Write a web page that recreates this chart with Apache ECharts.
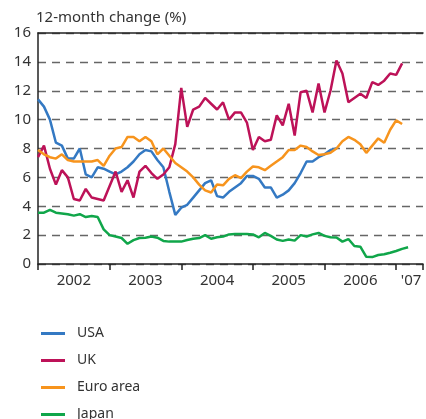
<!DOCTYPE html>
<html>
<head>
<meta charset="utf-8">
<script src="https://cdn.jsdelivr.net/npm/echarts@6/dist/echarts.min.js"></script>
<style>
html,body{margin:0;padding:0;background:#fff;}
#chart{width:426px;height:419px;}
</style>
</head>
<body>
<div id="chart"></div>
<script>
// Monthly data, Jan 2002 onwards (index 0 = Jan 2002)
const usa = [11.4,10.9,10.0,8.4,8.2,7.3,7.3,8.0,6.2,6.0,
  6.7,6.6,6.4,6.2,6.4,6.7,7.1,7.6,7.9,7.8,
  7.2,6.7,5.0,3.4,3.9,4.1,4.6,5.1,5.6,5.8,
  4.7,4.6,5.0,5.3,5.6,6.1,6.1,5.9,5.3,5.3,
  4.6,4.8,5.1,5.6,6.3,7.1,7.1,7.4,7.6,7.9,
  8.0];
const uk = [7.4,8.2,6.6,5.5,6.5,6.0,4.5,4.4,5.2,4.6,
  4.5,4.4,5.4,6.4,5.0,5.8,4.6,6.4,6.8,6.3,
  5.9,6.2,6.7,8.3,12.2,9.5,10.7,10.9,11.5,11.1,
  10.7,11.2,10.0,10.5,10.5,9.8,7.9,8.8,8.5,8.6,
  10.3,9.6,11.1,8.9,11.9,12.0,10.5,12.5,10.5,12.0,
  14.1,13.2,11.2,11.5,11.8,11.5,12.6,12.4,12.7,13.2,
  13.1,13.9];
const euro = [7.9,7.6,7.4,7.3,7.6,7.2,7.1,7.1,7.1,7.1,
  7.2,6.8,7.5,8.0,8.1,8.8,8.8,8.5,8.8,8.5,
  7.6,8.0,7.5,7.0,6.7,6.4,6.0,5.5,5.1,4.95,
  5.5,5.45,5.9,6.15,5.95,6.4,6.75,6.7,6.5,6.8,
  7.1,7.4,7.9,7.9,8.2,8.1,7.8,7.55,7.6,7.7,
  8.0,8.5,8.8,8.6,8.3,7.7,8.2,8.7,8.4,9.3,
  9.95,9.7];
const japan = [3.55,3.55,3.75,3.55,3.5,3.45,3.35,3.45,3.25,3.32,
  3.25,2.4,2.0,1.9,1.8,1.4,1.65,1.8,1.82,1.9,
  1.82,1.6,1.55,1.55,1.55,1.66,1.75,1.8,2.0,1.75,
  1.85,1.9,2.05,2.07,2.07,2.07,2.05,1.85,2.15,1.95,
  1.7,1.6,1.7,1.62,2.0,1.9,2.05,2.15,1.95,1.85,
  1.84,1.55,1.73,1.25,1.2,0.5,0.48,0.62,0.67,0.78,
  0.9,1.05,1.16];
const seriesNames = ['USA','UK','Euro area','Japan'];
const yearLabels = ['2002','2003','2004','2005','2006',"'07"];
const yearLabelMonths = [6,18,30,42,54,62.5];
const yMin = 0, yMax = 16, yStep = 2;

const colors = ['#3479c3','#bd1258','#f7941d','#10a64a'];
const FONT = 'Noto Sans';
const XMAX = 64.5;

const toPts = arr => arr.map((v,i)=>[i,v]);
const labelMap = {};
yearLabelMonths.forEach((m,k)=>{ labelMap[m.toFixed(1)] = yearLabels[k]; });

const chart = echarts.init(document.getElementById('chart'), null, {renderer:'canvas'});
chart.setOption({
  animation:false,
  color: colors,
  textStyle:{fontFamily:FONT},
  grid:{left:38, right:1, top:33, bottom:155},
  legend:{
    orient:'vertical', left:36, top:321, height:200,
    data: seriesNames,
    icon:'rect', itemWidth:24, itemHeight:3, itemGap:12,
    textStyle:{fontFamily:FONT, fontSize:14, color:'#333', lineHeight:15, padding:[0,0,0,7]}
  },
  xAxis:[
    {type:'value', min:0, max:XMAX, interval:12, position:'bottom',
     axisLine:{show:true, onZero:false, lineStyle:{color:'#222', width:1.5}},
     axisTick:{show:true, length:6, lineStyle:{color:'#222', width:1.5}},
     axisLabel:{show:false}, splitLine:{show:false}},
    {type:'value', min:0, max:XMAX, interval:0.5, position:'bottom',
     axisLine:{show:false}, axisTick:{show:false}, splitLine:{show:false},
     axisLabel:{show:true, margin:9, fontFamily:FONT, fontSize:15, color:'#333',
       formatter: v => labelMap[Number(v).toFixed(1)] || ''}},
    {type:'value', min:0, max:XMAX, position:'top',
     axisLine:{show:true, lineStyle:{color:'#222', width:1.5}},
     axisTick:{show:false}, axisLabel:{show:false}, splitLine:{show:false}}
  ],
  yAxis:{
    type:'value', min:yMin, max:yMax, interval:yStep,
    name:'12-month change (%)', nameLocation:'end', nameGap:8,
    nameTextStyle:{fontFamily:FONT, fontSize:15, color:'#333', align:'left', padding:[0,0,0,-2]},
    axisLine:{show:true, lineStyle:{color:'#222', width:1.5}},
    axisTick:{show:false},
    axisLabel:{fontFamily:FONT, fontSize:15, color:'#333', margin:7},
    splitLine:{show:true, lineStyle:{color:'#666', width:1.3, type:[8,6]}}
  },
  series:[
    {name:seriesNames[0], type:'line', data:toPts(usa), showSymbol:false, lineStyle:{width:2.5}},
    {name:seriesNames[1], type:'line', data:toPts(uk), showSymbol:false, lineStyle:{width:2.5}},
    {name:seriesNames[2], type:'line', data:toPts(euro), showSymbol:false, lineStyle:{width:2.5}},
    {name:seriesNames[3], type:'line', data:toPts(japan), showSymbol:false, lineStyle:{width:2.5}}
  ]
});
</script>
</body>
</html>
